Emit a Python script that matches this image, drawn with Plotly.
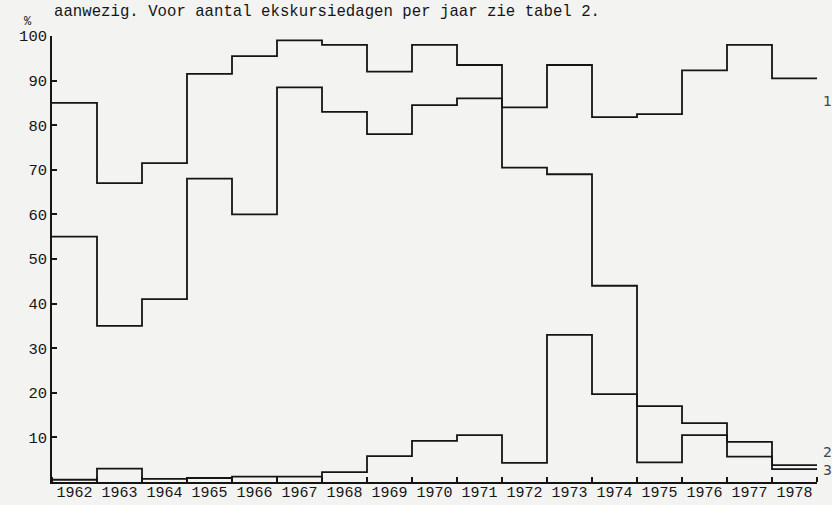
import plotly.graph_objects as go

years = list(range(1962, 1979))
year_labels = [str(y) for y in years]

serie_1 = [85, 67, 71.5, 91.5, 95.5, 99, 98, 92, 98, 93.5, 84, 93.5, 81.8, 82.5, 92.3, 98, 90.5]
serie_2 = [55, 35, 41, 68, 60, 88.5, 83, 78, 84.5, 86, 70.5, 69, 44, 17, 13.2, 9, 3.8]
serie_3 = [0.5, 3, 0.7, 0.9, 1.2, 1.2, 2.2, 5.8, 9.2, 10.5, 4.3, 33, 19.7, 4.4, 10.5, 5.7, 2.9]

y_ticks = [10, 20, 30, 40, 50, 60, 70, 80, 90, 100]
series_labels = ["1", "2", "3"]
label_positions = [85.5, 6.7, 2.7]

title_text = "aanwezig. Voor aantal ekskursiedagen per jaar zie tabel 2."

INK = "#151515"
BG = "#f3f3f1"
FONT = "Liberation Mono"

edges = [y - 0.5 for y in years] + [years[-1] + 0.5]

fig = go.Figure()
for vals in (serie_1, serie_2, serie_3):
    fig.add_trace(go.Scatter(
        x=edges, y=list(vals) + [vals[-1]],
        mode="lines", line=dict(shape="hv", color=INK, width=1.8),
        showlegend=False, hoverinfo="skip", cliponaxis=False,
    ))

fig.update_layout(
    width=832, height=505,
    margin=dict(l=52, r=15, t=36, b=23, autoexpand=False),
    paper_bgcolor=BG, plot_bgcolor=BG,
    font=dict(family=FONT, color=INK, size=15),
    showlegend=False,
)

fig.update_xaxes(
    range=[edges[0], edges[-1]], automargin=False,
    tickmode="array", tickvals=years, ticktext=year_labels,
    ticks="", showgrid=False, zeroline=False,
    showline=True, linecolor=INK, linewidth=1.8,
    ticklabelstandoff=-5,
    tickfont=dict(family=FONT, size=15, color=INK),
    minor=dict(tickmode="array", tickvals=edges, ticks="inside",
               ticklen=5, tickwidth=1.5, tickcolor=INK, showgrid=False),
)

fig.update_yaxes(
    range=[0, 100], automargin=False,
    tickmode="array", tickvals=y_ticks, ticktext=[str(v) for v in y_ticks],
    ticks="inside", ticklen=5, tickwidth=1.5, tickcolor=INK,
    showgrid=False, zeroline=False,
    showline=True, linecolor=INK, linewidth=1.8,
    tickfont=dict(family=FONT, size=15.5, color=INK),
)

fig.add_annotation(
    text=title_text, xref="paper", yref="paper",
    x=0.0, y=1.054, xanchor="left", yanchor="middle", showarrow=False,
    font=dict(family=FONT, size=15.7, color=INK),
)
fig.add_annotation(
    text="%", xref="paper", yref="paper",
    x=-0.031, y=1.032, xanchor="center", yanchor="middle", showarrow=False,
    font=dict(family=FONT, size=12, color=INK),
)
for lab, pos in zip(series_labels, label_positions):
    fig.add_annotation(
        text=lab, xref="paper", yref="y",
        x=1.005, y=pos, xanchor="left", yanchor="middle", showarrow=False,
        font=dict(family="DejaVu Sans", size=14, color="#444"),
    )

fig.write_html(
    "out.html",
    config={"displayModeBar": False},
    post_script="document.body.style.margin='0';document.body.style.padding='0';",
)
